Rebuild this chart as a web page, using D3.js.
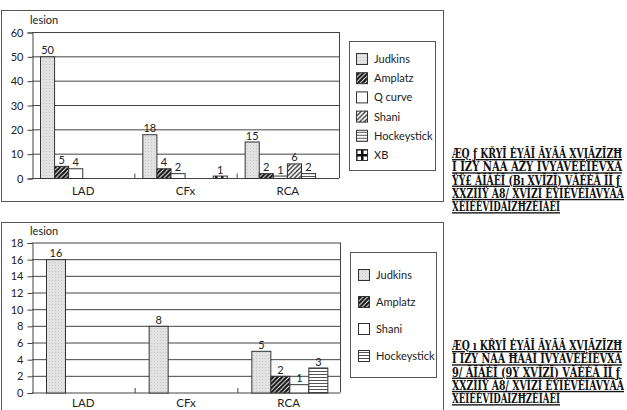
<!DOCTYPE html>
<html lang="en">
<head>
<meta charset="utf-8">
<script src="https://cdn.jsdelivr.net/npm/d3@7"></script>
<title>Lesions by catheter</title>
<style>
  body { margin: 0; background: #fff; }
  svg text { font-family: Lato, "Open Sans", sans-serif; fill: #222; }
  svg text.cap { font-family: "DejaVu Serif Condensed", "Liberation Serif", serif; font-size: 13.5px; font-weight: bold; fill: #111; text-decoration: underline; }
</style>
</head>
<body>
<div id="container"></div>
<script>
const categories = ["LAD", "CFx", "RCA"];

// top chart
const series1 = ["Judkins", "Amplatz", "Q curve", "Shani", "Hockeystick", "XB"];
const judkins1 = [50, 18, 15];
const amplatz1 = [5, 4, 2];
const qcurve1 = [4, 2, 1];
const shani1 = [0, 0, 6];
const hockey1 = [0, 0, 2];
const xb1 = [0, 1, 0];
const ticks1 = [0, 10, 20, 30, 40, 50, 60];

// bottom chart
const series2 = ["Judkins", "Amplatz", "Shani", "Hockeystick"];
const judkins2 = [16, 8, 5];
const amplatz2 = [0, 0, 2];
const shani2 = [0, 0, 1];
const hockey2 = [0, 0, 3];
const ticks2 = [0, 2, 4, 6, 8, 10, 12, 14, 16, 18];

// caption text on the right (as it appears, garbled font)
const caption1 = [
  "ÆQ  ƒ  KŘYĪ ĖYĀĪ ĀYĀĀ XVĮĀZĪZĦ",
  "Ī ĪZY ŇĀĀ ĀŽY ĪVYĀVĖĖĪĖVXĀ",
  "ŸŸ£ ĀĪĀĖĪ (Bı XVĪZĪ) VĀĖĖĀ ĪĪ ƒ",
  "XXZĪĪŸ Ā8/ XVĪZĪ ĖŸĪĖVĖĪĀVYĀĀ",
  "XĖĪĖĖVĪDĀĪZĦZĖĪĀĖĪ"
];
const caption2 = [
  "ÆQ  ı  KŘYĪ ĖYĀĪ ĀYĀĀ XVĮĀZĪZĦ",
  "Ī ĪZY ŇĀĀ ĦĀĀĪ ĪVYĀVĖĖĪĖVXĀ",
  "9/ ĀĪĀĖĪ (9Y XVĪZĪ) VĀĖĖĀ ĪĪ ƒ",
  "XXZĪĪŸ Ā8/ XVĪZĪ ĖŸĪĖVĖĪĀVYĀĀ",
  "XĖĪĖĖVĪDĀĪZĦZĖĪĀĖĪ"
];

const W = 627, H = 410;
const LINE = "#444";

const svg = d3.select("#container").append("svg")
  .attr("width", W).attr("height", H);

// ---- fill patterns ----
const defs = svg.append("defs");

const pj = defs.append("pattern").attr("id", "judkins")
  .attr("patternUnits", "userSpaceOnUse").attr("width", 3).attr("height", 3);
pj.append("rect").attr("width", 3).attr("height", 3).attr("fill", "#e2e2e2");
pj.append("rect").attr("x", 1).attr("y", 1).attr("width", 1).attr("height", 1).attr("fill", "#c8c8c8");

const pa = defs.append("pattern").attr("id", "amplatz")
  .attr("patternUnits", "userSpaceOnUse").attr("width", 4.5).attr("height", 4.5);
pa.append("rect").attr("width", 4.5).attr("height", 4.5).attr("fill", "#111");
pa.append("path").attr("d", "M-1,5.5 L5.5,-1 M-1,1 L1,-1 M3.5,5.5 L5.5,3.5")
  .attr("stroke", "#fff").attr("stroke-width", 1);

const ps = defs.append("pattern").attr("id", "shani")
  .attr("patternUnits", "userSpaceOnUse").attr("width", 4.5).attr("height", 4.5);
ps.append("rect").attr("width", 4.5).attr("height", 4.5).attr("fill", "#fff");
ps.append("path").attr("d", "M-1,5.5 L5.5,-1 M-1,1 L1,-1 M3.5,5.5 L5.5,3.5")
  .attr("stroke", "#222").attr("stroke-width", 1.2);

const ph = defs.append("pattern").attr("id", "hockey")
  .attr("patternUnits", "userSpaceOnUse").attr("width", 4).attr("height", 3);
ph.append("rect").attr("width", 4).attr("height", 3).attr("fill", "#fff");
ph.append("rect").attr("y", 2).attr("width", 4).attr("height", 1).attr("fill", "#555");

const px = defs.append("pattern").attr("id", "xb")
  .attr("patternUnits", "userSpaceOnUse").attr("width", 6).attr("height", 6);
px.append("rect").attr("width", 6).attr("height", 6).attr("fill", "#111");
px.append("rect").attr("x", 1.5).attr("y", 1.5).attr("width", 3.5).attr("height", 3.5).attr("fill", "#fff");

const fillOf = {
  "Judkins": "url(#judkins)",
  "Amplatz": "url(#amplatz)",
  "Q curve": "#fff",
  "Shani": "url(#shani)",
  "Hockeystick": "url(#hockey)",
  "XB": "url(#xb)"
};

function drawChart(cfg) {
  const g = svg.append("g");

  // outer frame
  g.append("rect")
    .attr("x", cfg.frame[0]).attr("y", cfg.frame[1])
    .attr("width", cfg.frame[2] - cfg.frame[0]).attr("height", cfg.frame[3] - cfg.frame[1])
    .attr("fill", "none").attr("stroke", "#555").attr("stroke-width", 1);

  const y = d3.scaleLinear().domain([0, d3.max(cfg.ticks)]).range([cfg.plot.bottom, cfg.plot.top]);
  const x0 = d3.scaleBand().domain(categories).range([cfg.plot.left, cfg.plot.right]);
  const x1 = d3.scaleBand().domain(cfg.series).range(cfg.inner);

  // grid lines
  g.append("g").selectAll("line")
    .data(cfg.ticks.filter(t => t > 0))
    .join("line")
    .attr("x1", cfg.plot.left).attr("x2", cfg.plot.right)
    .attr("y1", d => y(d) + 0.5).attr("y2", d => y(d) + 0.5)
    .attr("stroke", LINE);

  // right border of plot
  g.append("line")
    .attr("x1", cfg.plot.right + 0.5).attr("x2", cfg.plot.right + 0.5)
    .attr("y1", y(d3.max(cfg.ticks))).attr("y2", y(0))
    .attr("stroke", LINE);

  // y axis
  const yAxis = d3.axisLeft(y).tickValues(cfg.ticks).tickSize(5).tickPadding(4);
  const ya = g.append("g").attr("transform", "translate(" + (cfg.plot.left + 0.5) + ",0.5)").call(yAxis);
  ya.selectAll("path, line").attr("stroke", LINE);
  ya.selectAll("text").style("font-size", "11px").attr("fill", "#222")
    .style("font-family", "Lato, 'Open Sans', sans-serif");

  // x axis: baseline + category separators pointing up
  const xa = g.append("g").attr("transform", "translate(0," + (y(0) + 0.5) + ")");
  xa.append("line").attr("x1", cfg.plot.left).attr("x2", cfg.plot.right)
    .attr("stroke", LINE);
  xa.selectAll("line.sep")
    .data(categories.slice(1))
    .join("line").attr("class", "sep")
    .attr("x1", d => x0(d) + 0.5).attr("x2", d => x0(d) + 0.5)
    .attr("y1", 0).attr("y2", -5).attr("stroke", LINE);
  xa.selectAll("text")
    .data(categories)
    .join("text")
    .attr("x", d => x0(d) + x0.bandwidth() / 2)
    .attr("y", cfg.catDy)
    .attr("text-anchor", "middle")
    .style("font-size", "11.5px")
    .text(d => d);

  // unit label
  g.append("text").attr("x", cfg.plot.left - 2).attr("y", cfg.plot.top - 8)
    .style("font-size", "11px").text("lesion");

  // bars
  const rows = [];
  cfg.series.forEach((s, i) => {
    categories.forEach((c, j) => {
      rows.push({ s: s, c: c, v: cfg.values[i][j] });
    });
  });
  const shown = rows.filter(d => d.v > 0);

  g.append("g").selectAll("rect")
    .data(shown)
    .join("rect")
    .attr("x", d => x0(d.c) + x1(d.s) + 0.5)
    .attr("y", d => y(d.v) + 0.5)
    .attr("width", x1.bandwidth())
    .attr("height", d => y(0) - y(d.v))
    .attr("fill", d => cfg.fills[d.s])
    .attr("stroke", "#333").attr("stroke-width", 1);

  g.append("g").selectAll("text")
    .data(shown)
    .join("text")
    .attr("x", d => x0(d.c) + x1(d.s) + x1.bandwidth() / 2 + 0.5)
    .attr("y", d => y(d.v) - 2)
    .attr("text-anchor", "middle")
    .style("font-size", "11px")
    .text(d => d.v);

  // legend
  const lg = g.append("g");
  const L = cfg.legend;
  lg.append("rect")
    .attr("x", L.box[0] + 0.5).attr("y", L.box[1] + 0.5)
    .attr("width", L.box[2] - L.box[0]).attr("height", L.box[3] - L.box[1])
    .attr("fill", "#fff").attr("stroke", "#555");
  const ly = d3.scalePoint().domain(cfg.series).range([L.first, L.last]);
  const item = lg.selectAll("g.item").data(cfg.series).join("g").attr("class", "item")
    .attr("transform", d => "translate(" + L.sx + "," + ly(d) + ")");
  item.append("rect")
    .attr("x", 0.5).attr("y", -5.5).attr("width", 11).attr("height", 11)
    .attr("fill", d => cfg.fills[d]).attr("stroke", "#333");
  item.append("text")
    .attr("x", L.tx - L.sx).attr("y", 4)
    .style("font-size", "11px")
    .text(d => d);

  // caption column
  svg.append("g").selectAll("text")
    .data(cfg.caption)
    .join("text")
    .attr("class", "cap")
    .attr("x", 452)
    .attr("y", (d, i) => cfg.capY + i * 13.3)
    .attr("textLength", (d, i) => cfg.capW[i])
    .attr("lengthAdjust", "spacingAndGlyphs")
    .text(d => d);
}

drawChart({
  frame: [1.5, 10.5, 443.5, 201.5],
  plot: { left: 32, right: 339, top: 32, bottom: 178 },
  ticks: ticks1,
  series: series1,
  values: [judkins1, amplatz1, qcurve1, shani1, hockey1, xb1],
  fills: fillOf,
  inner: [8, 92.5],
  catDy: 16,
  legend: { box: [349, 41, 435, 170], sx: 356, tx: 374, first: 59, last: 155 },
  caption: caption1,
  capY: 158,
  capW: [170, 170, 168, 172, 108]
});

drawChart({
  frame: [1.5, 222.5, 443.5, 412],
  plot: { left: 32, right: 340, top: 242.5, bottom: 392.5 },
  ticks: ticks2,
  series: series2,
  values: [judkins2, amplatz2, shani2, hockey2],
  fills: Object.assign({}, fillOf, { "Shani": "#fff" }),
  inner: [14, 90],
  catDy: 14,
  legend: { box: [350, 252, 436, 377], sx: 358, tx: 376, first: 275, last: 356 },
  caption: caption2,
  capY: 350,
  capW: [170, 170, 168, 172, 108]
});
</script>
</body>
</html>
